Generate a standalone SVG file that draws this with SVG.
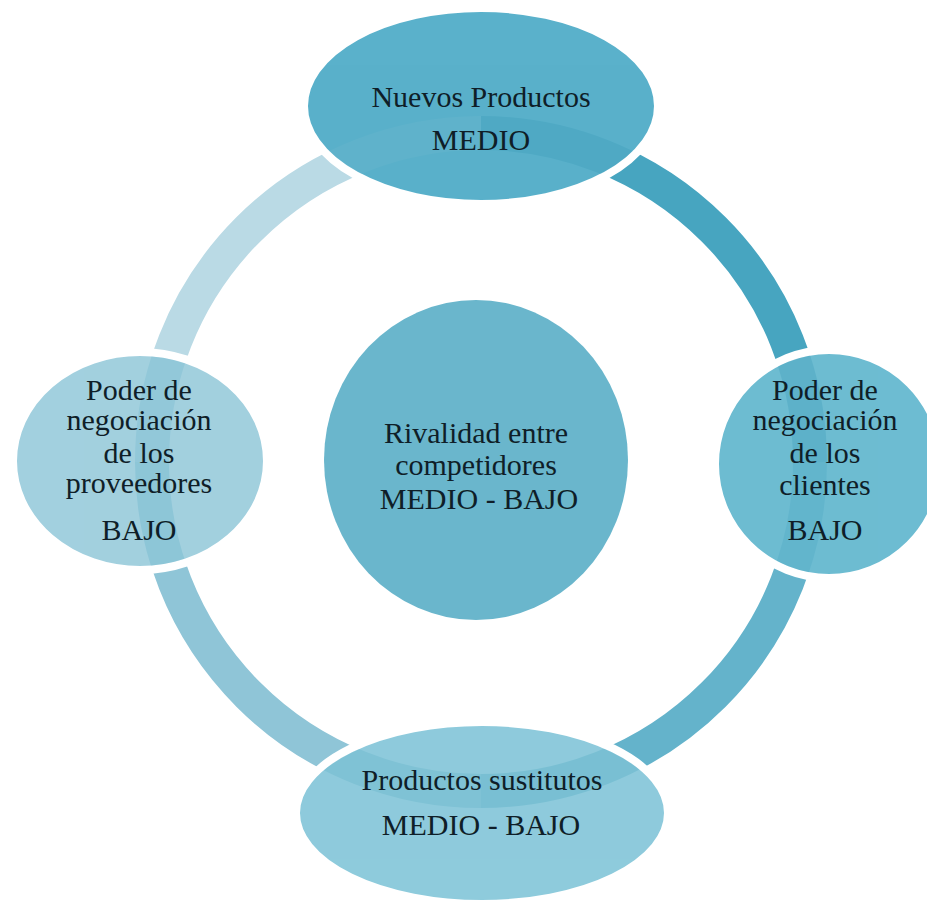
<svg xmlns="http://www.w3.org/2000/svg" width="927" height="907" viewBox="0 0 927 907">
<style>
.t{font-family:"Liberation Serif","Times New Roman",serif;font-size:30px;fill:#0f1e28;text-anchor:middle}
.arc{fill:none;stroke-width:34;stroke-linecap:butt}
.node{stroke:#ffffff;stroke-width:8}
</style>
<defs>
<clipPath id="inNodes">
<ellipse cx="481" cy="106" rx="173" ry="94"/>
<ellipse cx="140" cy="461" rx="123" ry="105"/>
<ellipse cx="829" cy="464" rx="110" ry="110"/>
<ellipse cx="482" cy="813" rx="182" ry="87"/>
</clipPath>
</defs>
<rect width="927" height="907" fill="#ffffff"/>
<g id="connectors">
<path class="arc" stroke="#47a5c0" d="M481,133 A329,329 0 0 1 810,462"/>
<path class="arc" stroke="#64b3cb" d="M810,462 A329,329 0 0 1 481,791"/>
<path class="arc" stroke="#8fc5d7" d="M481,791 A329,329 0 0 1 152,462"/>
<path class="arc" stroke="#badae5" d="M152,462 A329,329 0 0 1 481,133"/>
</g>
<g id="node-top">
<ellipse class="node" cx="481" cy="106" rx="177" ry="98" fill="#5ab1cb"/>
</g>
<g id="node-left">
<ellipse class="node" cx="140" cy="461" rx="127" ry="109" fill="#a2d0df"/>
</g>
<g id="node-right">
<ellipse class="node" cx="829" cy="464" rx="114" ry="114" fill="#6dbcd2"/>
</g>
<g id="node-bottom">
<ellipse class="node" cx="482" cy="813" rx="186" ry="91" fill="#8ecbdc"/>
</g>
<g id="ring-through" clip-path="url(#inNodes)" opacity="0.3">
<path class="arc" stroke="#3a9ab7" d="M481,133 A329,329 0 0 1 810,462"/>
<path class="arc" stroke="#4aa6c1" d="M810,462 A329,329 0 0 1 481,791"/>
<path class="arc" stroke="#5eaec7" d="M481,791 A329,329 0 0 1 152,462"/>
<path class="arc" stroke="#6fb6cc" d="M152,462 A329,329 0 0 1 481,133"/>
</g>
<g id="node-center">
<ellipse cx="476" cy="460" rx="152" ry="160" fill="#6ab6cc"/>
<text class="t" x="476" y="443">Rivalidad entre</text>
<text class="t" x="476" y="475">competidores</text>
<text class="t" x="479" y="509">MEDIO - BAJO</text>
</g>
<g id="labels">
<text class="t" x="481" y="107">Nuevos Productos</text>
<text class="t" x="481" y="150">MEDIO</text>
<text class="t" x="139" y="400">Poder de</text>
<text class="t" x="139" y="430">negociación</text>
<text class="t" x="139" y="463">de los</text>
<text class="t" x="139" y="493">proveedores</text>
<text class="t" x="139" y="540">BAJO</text>
<text class="t" x="825" y="400">Poder de</text>
<text class="t" x="825" y="430">negociación</text>
<text class="t" x="825" y="463">de los</text>
<text class="t" x="825" y="495">clientes</text>
<text class="t" x="825" y="540">BAJO</text>
<text class="t" x="482" y="790">Productos sustitutos</text>
<text class="t" x="481" y="835">MEDIO - BAJO</text>
</g>
</svg>
